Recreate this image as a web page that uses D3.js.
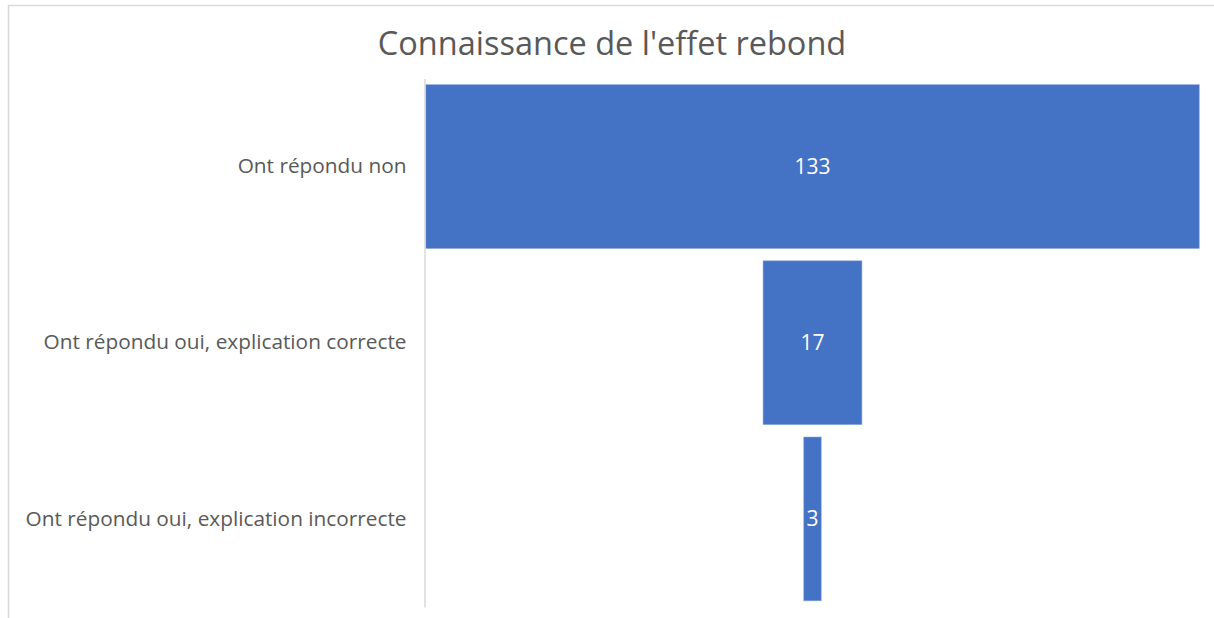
<!DOCTYPE html>
<html><head><meta charset="utf-8">
<script src="https://cdn.jsdelivr.net/npm/d3@7"></script>
<style>body{margin:0;background:#fff;} text{font-family:"Open Sans","Noto Sans",sans-serif;}</style>
</head><body>
<svg id="c" width="1214" height="618"></svg>
<script>
const categories = ["Ont répondu non", "Ont répondu oui, explication correcte", "Ont répondu oui, explication incorrecte"];
const values = [133, 17, 3];
const title = "Connaissance de l'effet rebond";

const svg = d3.select("#c");
svg.append("rect").attr("x",8.5).attr("y",5.5).attr("width",1220).attr("height",640)
  .attr("fill","#fff").attr("stroke","#d9d9d9").attr("stroke-width",1.5);

svg.append("text").attr("x",612).attr("y",55).attr("text-anchor","middle")
  .attr("font-size",32.5).attr("fill","#595959").text(title);

const y = d3.scaleBand().domain(categories).range([78.5,607]).paddingInner(0.07).paddingOuter(0.035);
const w = d3.scaleLinear().domain([0, d3.max(values)]).range([0, 773.5]);
const cx = 812.5;

svg.selectAll("rect.bar").data(values).join("rect").attr("class","bar")
  .attr("x",(d)=>cx - w(d)/2).attr("width",(d)=>w(d))
  .attr("y",(d,i)=>y(categories[i])).attr("height",y.bandwidth())
  .attr("fill","#4472c4").attr("stroke","#8eaadb").attr("stroke-width",0.6);

svg.selectAll("text.val").data(values).join("text").attr("class","val")
  .attr("x",cx).attr("y",(d,i)=>y(categories[i])+y.bandwidth()/2)
  .attr("dy","0.35em").attr("text-anchor","middle").attr("font-size",21).attr("fill","#fff").text(d=>d);

const axis = d3.axisLeft(y).tickSize(0).tickPadding(18);
const g = svg.append("g").attr("transform","translate(424.5,0)").call(axis);
g.select(".domain").attr("stroke","#d9d9d9").attr("stroke-width",1.5);
g.selectAll("text").attr("font-size",20.8).attr("fill","#595959").attr("font-family","'Open Sans','Noto Sans',sans-serif");
</script>
</body></html>
